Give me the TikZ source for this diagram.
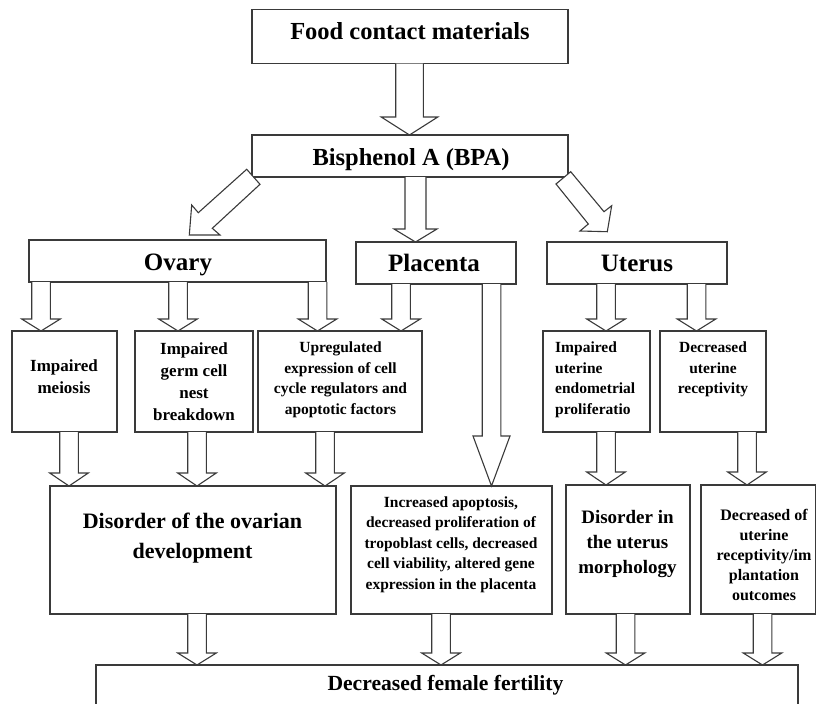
\documentclass[tikz,border=0pt]{standalone}
\usepackage{fontspec}
\setmainfont{Liberation Serif}
\usetikzlibrary{calc}
\definecolor{lc}{HTML}{3A3A3A}
\tikzset{
  box/.style={draw=lc, line width=1.1pt, fill=white, rectangle, inner sep=0pt, outer sep=0pt},
  txt/.style={inner sep=0pt, align=center, text=black},
  arsw/.store in=\arsw, arhw/.store in=\arhw, arhl/.store in=\arhl,
  arsw=9.3pt, arhw=19.3pt, arhl=12pt,
  blk/.style={draw=lc, fill=white, line width=1.1pt, line join=miter,
    to path={let \p1=(\tikztostart), \p2=(\tikztotarget) in
      (\x1-\arsw,\y1) -- (\x1-\arsw,\y2+\arhl) -- (\x1-\arhw,\y2+\arhl) -- (\x1,\y2)
      -- (\x1+\arhw,\y2+\arhl) -- (\x1+\arsw,\y2+\arhl) -- (\x1+\arsw,\y1)}},
  diag/.style={draw=lc, fill=white, line width=1.1pt, line join=miter}
}
\newcommand\mybox[5]{\node[box, anchor=north west, minimum width={#4-#2}, minimum height={#5-#3}] (#1) at (#2,#3) {};}
\begin{document}
\begin{tikzpicture}[x=1pt,y=-1pt]
\useasboundingbox (0,0) rectangle (817,704);
% boxes
\mybox{food}{252}{9.5}{568}{63.5}
\mybox{bpa}{252}{135}{568}{177}
\mybox{ovary}{29}{240}{326}{282}
\mybox{placenta}{356}{242}{516}{284}
\mybox{uterus}{547}{242}{727}{284}
\mybox{meiosis}{12}{331}{117}{432}
\mybox{germ}{135}{331}{253}{432}
\mybox{upreg}{258}{331}{422}{432}
\mybox{prolif}{543}{331}{650}{432}
\mybox{recept}{660}{331}{766}{432}
\mybox{disov}{50}{486}{336}{614}
\mybox{incr}{351}{486}{552}{614}
\mybox{disut}{566}{485}{690}{614}
\mybox{decof}{701}{485}{815.5}{614}
\mybox{fert}{96}{665}{798}{740}
% texts (anchor base = baseline of last line)
\node[txt, anchor=base, font={\fontsize{24.5}{29}\selectfont\bfseries}] (tfood) at (410,39.3) {Food contact materials};
\node[txt, anchor=base, font={\fontsize{24.5}{29}\selectfont\bfseries}] (tbpa) at (411,165) {Bisphenol A (BPA)};
\node[txt, anchor=base, font={\fontsize{25}{29}\selectfont\bfseries}] (tovary) at (178,270.7) {Ovary};
\node[txt, anchor=base, font={\fontsize{25}{29}\selectfont\bfseries}] (tplacenta) at (434,271.7) {Placenta};
\node[txt, anchor=base, font={\fontsize{25}{29}\selectfont\bfseries}] (tuterus) at (637,271.5) {Uterus};
\node[txt, anchor=base, font={\fontsize{17}{21.7}\selectfont\bfseries}] (tmeiosis) at (64,393.4) {Impaired\\meiosis};
\node[txt, anchor=base, font={\fontsize{17}{22.2}\selectfont\bfseries}] (tgerm) at (194,420.6) {Impaired\\germ cell\\nest\\breakdown};
\node[txt, anchor=base, font={\fontsize{15.5}{20.8}\selectfont\bfseries}] (tupreg) at (340.5,414.7) {Upregulated\\expression of cell\\cycle regulators and\\apoptotic factors};
\node[txt, anchor=base west, align=left, font={\fontsize{15.5}{20.8}\selectfont\bfseries}] (tprolif) at (555,414.7) {Impaired\\uterine\\endometrial\\proliferatio};
\node[txt, anchor=base, font={\fontsize{15.5}{20.8}\selectfont\bfseries}] (trecept) at (713,393.9) {Decreased\\uterine\\receptivity};
\node[txt, anchor=base, font={\fontsize{22}{30}\selectfont\bfseries}] (tdisov) at (192.5,558.3) {Disorder of the ovarian\\development};
\node[txt, anchor=base, font={\fontsize{15.5}{20.4}\selectfont\bfseries}] (tincr) at (451,589.1) {Increased apoptosis,\\decreased proliferation of\\tropoblast cells, decreased\\cell viability, altered gene\\expression in the placenta};
\node[txt, anchor=base, font={\fontsize{19}{25}\selectfont\bfseries}] (tdisut) at (627.5,573.3) {Disorder in\\the uterus\\morphology};
\node[txt, anchor=base, font={\fontsize{16}{20.2}\selectfont\bfseries}] (tdecof) at (764,600.8) {Decreased of\\uterine\\receptivity/im\\plantation\\outcomes};
\node[txt, anchor=base, font={\fontsize{21.6}{26}\selectfont\bfseries}] (tfert) at (445.5,690.7) {Decreased female fertility};
% block arrows
\draw[blk, arsw=13.8pt, arhw=28.3pt, arhl=18pt] (food.south -| 409.5,0) to (bpa.north -| 409.5,0);
\draw[blk, arsw=10.5pt, arhw=21.5pt, arhl=13pt] (bpa.south -| 415.5,0) to (placenta.north -| 415.5,0);
\draw[diag] (246.7,169.3) -- (198.3,212.7) -- (191.7,205) -- (189.3,235) -- (220,235) -- (212.3,228.3) -- (260,184.3) -- cycle;
\draw[diag] (570.7,171.7) -- (604,211.7) -- (611.7,205.7) -- (607.3,231.7) -- (580,231) -- (588.3,224) -- (556,184) -- cycle;
\draw[blk] (ovary.south -| 41,0) to (meiosis.north -| 41,0);
\draw[blk] (ovary.south -| 178,0) to (germ.north -| 178,0);
\draw[blk] (ovary.south -| 317.5,0) to (upreg.north -| 317.5,0);
\draw[blk] (placenta.south -| 401,0) to (upreg.north -| 401,0);
\draw[blk, arhw=18.5pt, arhl=50pt] (placenta.south -| 491.5,0) to (incr.north -| 491.5,0);
\draw[blk] (uterus.south -| 606,0) to (prolif.north -| 606,0);
\draw[blk] (uterus.south -| 696.5,0) to (recept.north -| 696.5,0);
\draw[blk, arhl=13pt] (meiosis.south -| 69,0) to (disov.north -| 69,0);
\draw[blk, arhl=13pt] (germ.south -| 197,0) to (disov.north -| 197,0);
\draw[blk, arhl=13pt] (upreg.south -| 325,0) to (disov.north -| 325,0);
\draw[blk, arhl=13pt] (prolif.south -| 606,0) to (disut.north -| 606,0);
\draw[blk, arhl=13pt] (recept.south -| 747,0) to (decof.north -| 747,0);
\draw[blk] (disov.south -| 197,0) to (fert.north -| 197,0);
\draw[blk] (incr.south -| 441,0) to (fert.north -| 441,0);
\draw[blk] (disut.south -| 625.5,0) to (fert.north -| 625.5,0);
\draw[blk] (decof.south -| 762.5,0) to (fert.north -| 762.5,0);
\end{tikzpicture}
\end{document}
